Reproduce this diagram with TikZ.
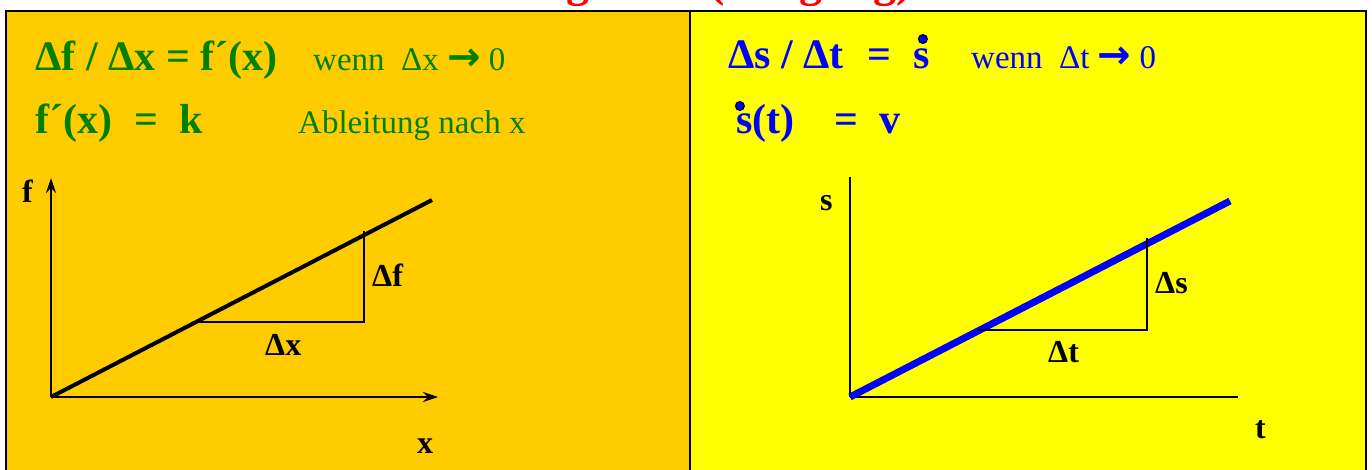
\documentclass[tikz,border=0pt]{standalone}
\usepackage{fontspec}
\setmainfont{Liberation Serif}
\newfontfamily\arrowfont{DejaVu Sans}
\usetikzlibrary{arrows.meta,calc}
\definecolor{mygreen}{RGB}{0,128,0}
\definecolor{panelorange}{RGB}{255,204,0}
\definecolor{panelyellow}{RGB}{255,255,0}
\definecolor{myblue}{RGB}{0,0,255}
\definecolor{myred}{RGB}{255,0,0}
\newcommand{\myarrow}{{\arrowfont\bfseries\fontsize{40}{44}\selectfont →}}
\begin{document}
\begin{tikzpicture}[x=1pt,y=-1pt,
  txt/.style={inner sep=0pt, anchor=base west},
  bigf/.style={txt, font=\fontsize{42}{48}\selectfont\bfseries},
  smallf/.style={txt, font=\fontsize{33}{40}\selectfont},
  lab/.style={txt, font=\fontsize{32}{38}\selectfont\bfseries, text=black},
  axis/.style={line width=2pt, black},
  tri/.style={line width=2pt, black},
  dotmark/.style={fill=myblue, draw=black, line width=1pt},
  tip/.style={-{Stealth[length=15pt,width=10pt,inset=5pt]}}
]
\useasboundingbox (0,0) rectangle (1372,469);
% title (cut off at the top)
\node[txt, anchor=base east, font=\fontsize{46}{52}\selectfont\bfseries, text=myred] (title) at (912,-4) {Geschwindigkeit v (Steigung)};
% panels
\fill[panelorange] (6,11) rectangle (690,480);
\fill[panelyellow] (690,11) rectangle (1366,480);
\draw[line width=2pt] (6,480) -- (6,11) -- (1366,11) -- (1366,480);
\draw[line width=2.5pt] (690,11) -- (690,480);
% left texts
\node[bigf, text=mygreen] (lf1) at (35,70) {Δf / Δx = f´(x)};
\node[smallf, text=mygreen] (lw1) at (313,70) {wenn\ \ Δx \myarrow\ 0};
\node[bigf, text=mygreen] (lf2) at (35,133) {f´(x)\hspace{22pt}=\hspace{21pt}k};
\node[smallf, text=mygreen] (ll2) at (298,133) {Ableitung nach x};
% right texts
\node[bigf, text=myblue] (rf1) at (728,68) {Δs / Δt\hspace{24pt}=};
\node[bigf, text=myblue] (rs1) at (913,68) {s};
\node[smallf, text=myblue] (rw1) at (971,68) {wenn\ \ Δt \myarrow\ 0};
\node[bigf, text=myblue] (rs2) at (736,133) {s};
\node[bigf, text=myblue] (rf2) at (rs2.base east) {(t)\hspace{40pt}=\hspace{21pt}v};
\path[dotmark] ($(rs1.base)+(1.5,-29)$) circle (4.5pt);
\path[dotmark] ($(rs2.base)+(-4.5,-27)$) circle (4.5pt);
% left graph
\coordinate (oL) at (51,397);
\coordinate (yL) at (51,178);
\coordinate (xL) at (438,397);
\coordinate (gL) at (432,200);
\coordinate (aL) at (198,322);
\coordinate (bL) at (364,322);
\coordinate (cL) at (364,231);
\draw[axis,tip] (oL) -- (yL);
\draw[axis,tip] (oL) -- (xL);
\draw[line width=4pt] (oL) -- (gL);
\draw[tri] (aL) -- (bL) -- (cL);
\node[lab] (fL) at (22,202) {f};
\node[lab] (xlab) at (417,453) {x};
\node[lab] (dfL) at (372,286) {Δf};
\node[lab] (dxL) at (265,355) {Δx};
% right graph
\coordinate (oR) at (850,397);
\coordinate (yR) at (850,177);
\coordinate (xR) at (1238,397);
\coordinate (gR) at (1230,201);
\coordinate (aR) at (978,330);
\coordinate (bR) at (1147,330);
\coordinate (cR) at (1147,238);
\draw[axis] (oR) -- (yR);
\draw[axis] (oR) -- (xR);
\draw[line width=7pt, myblue] (oR) -- (gR);
\draw[tri] (aR) -- (bR) -- (cR);
\node[lab] (sR) at (820,210) {s};
\node[lab] (tR) at (1255,438) {t};
\node[lab] (dsR) at (1155,293) {Δs};
\node[lab] (dtR) at (1048,362) {Δt};
\end{tikzpicture}
\end{document}
